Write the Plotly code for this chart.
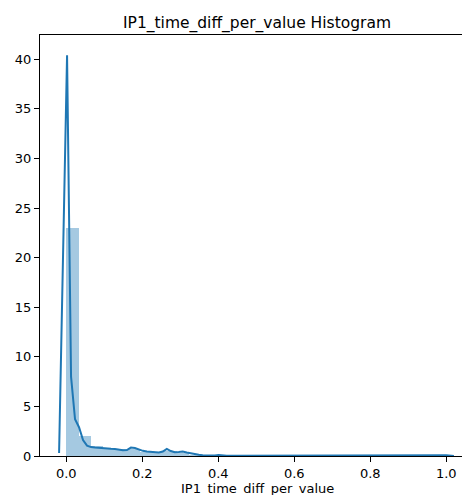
import plotly.graph_objects as go

# Histogram (density) — 31 equal bins over [0, 1]
bin_lo = 0.0
bin_hi = 1.0
n_bins = 31
hist_heights = [23.0, 2.0, 1.0, 0.8, 0.72, 0.7, 0.45, 0.38, 0.55, 0.35, 0.15,
                0.06, 0.08, 0.03, 0.03, 0.0, 0.0, 0.0, 0.06, 0.0, 0.0, 0.0,
                0.0, 0.0, 0.06, 0.0, 0.0, 0.0, 0.0, 0.0, 0.06]

# KDE curve
kde_x = [-0.019, 0.002, 0.0125, 0.023, 0.0335, 0.044, 0.0545, 0.065, 0.0755,
         0.086, 0.0965, 0.107, 0.1175, 0.128, 0.1385, 0.149, 0.1595, 0.170,
         0.1805, 0.191, 0.2015, 0.212, 0.2225, 0.233, 0.2435, 0.254, 0.2645,
         0.275, 0.2855, 0.296, 0.3065, 0.317, 0.3275, 0.338, 0.3485, 0.359,
         0.3695, 0.38, 0.3905, 0.401, 0.4115, 0.422, 0.45, 0.5, 0.55, 0.585,
         0.6, 0.615, 0.65, 0.7, 0.75, 0.785, 0.8, 0.815, 0.85, 0.9, 0.95,
         0.985, 1.0, 1.02]
kde_y = [0.3, 40.4, 8.0, 3.7, 2.9, 1.6, 1.05, 0.9, 0.85,
         0.8, 0.78, 0.75, 0.72, 0.7, 0.62, 0.58, 0.6, 0.85,
         0.8, 0.62, 0.52, 0.45, 0.4, 0.35, 0.35, 0.45, 0.72,
         0.5, 0.38, 0.4, 0.45, 0.35, 0.25, 0.18, 0.12, 0.08,
         0.06, 0.05, 0.06, 0.1, 0.06, 0.03, 0.02, 0.02, 0.02, 0.03,
         0.08, 0.03, 0.02, 0.02, 0.02, 0.03, 0.08, 0.03, 0.02, 0.02, 0.02,
         0.03, 0.08, 0.0]

x_ticks = [0.0, 0.2, 0.4, 0.6, 0.8, 1.0]
x_ticklabels = ["0.0", "0.2", "0.4", "0.6", "0.8", "1.0"]
y_ticks = [0, 5, 10, 15, 20, 25, 30, 35, 40]

title_text = "IP1_time_diff_per_value Histogram"
xlabel_text = "IP1_time_diff_per_value"

bw = (bin_hi - bin_lo) / n_bins
centers = [bin_lo + (i + 0.5) * bw for i in range(n_bins)]

FONT = "DejaVu Sans"
W, H = 462, 495
L, R, T, B = 40, 0, 35, 39

fig = go.Figure()
fig.add_trace(go.Bar(x=centers, y=hist_heights, width=[bw] * n_bins,
                     marker=dict(color="rgba(31,119,180,0.4)", line=dict(width=0)),
                     hoverinfo="skip", showlegend=False))
fig.add_trace(go.Scatter(x=kde_x, y=kde_y, mode="lines",
                         line=dict(color="#1f77b4", width=2),
                         showlegend=False))

fig.update_layout(
    width=W, height=H,
    margin=dict(l=L, r=R, t=T, b=B, pad=0),
    paper_bgcolor="white", plot_bgcolor="white",
    font=dict(family=FONT, size=13, color="black"),
    bargap=0,
    title=dict(text=title_text, font=dict(size=15.5, color="black"),
               x=257 / W, xref="container", xanchor="center",
               y=1 - 23 / H, yref="container", yanchor="middle"),
    xaxis=dict(range=[-0.0692, 1.0413], tickvals=x_ticks, ticktext=x_ticklabels,
               showgrid=False, zeroline=False, showline=True, linecolor="black",
               linewidth=1, mirror=True, ticks="outside", ticklen=5,
               tickwidth=1, tickcolor="black", tickfont=dict(size=13)),
    yaxis=dict(range=[0, 42.45], tickvals=y_ticks, showgrid=False,
               zeroline=False, showline=True, linecolor="black", linewidth=1,
               ticks="outside", ticklen=5, tickwidth=1, tickcolor="black",
               tickfont=dict(size=13)),
    annotations=[dict(text=xlabel_text, xref="paper", yref="paper",
                      x=(257 - L) / (W - L), y=(456 - 488) / (H - T - B),
                      xanchor="center", yanchor="middle", showarrow=False,
                      font=dict(size=13, color="black"))],
)

fig.write_html(
    "out.html",
    config={"displayModeBar": False},
    post_script="document.body.style.margin='0';document.body.style.overflow='hidden';",
)
